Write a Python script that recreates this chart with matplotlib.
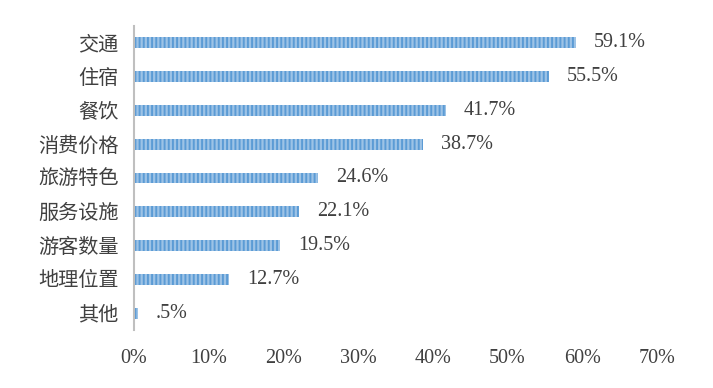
import matplotlib
matplotlib.use("Agg")
import matplotlib.pyplot as plt

# categories from top to bottom and their shares (%)
categories = ["交通", "住宿", "餐饮", "消费价格", "旅游特色", "服务设施", "游客数量", "地理位置", "其他"]
values = [59.1, 55.5, 41.7, 38.7, 24.6, 22.1, 19.5, 12.7, 0.5]
value_labels = ["59.1%", "55.5%", "41.7%", "38.7%", "24.6%", "22.1%", "19.5%", "12.7%", ".5%"]
xticks = [0, 10, 20, 30, 40, 50, 60, 70]
xtick_labels = ["0%", "10%", "20%", "30%", "40%", "50%", "60%", "70%"]

plt.rcParams['font.family'] = ['Liberation Serif', 'Noto Sans CJK SC']
plt.rcParams['hatch.linewidth'] = 1.4

fig = plt.figure(figsize=(7.13, 3.88), dpi=100)
ax = fig.add_axes([0.188, 0.1495, 0.7335, 0.7835])

ypos = list(range(len(categories)))[::-1]
ax.barh(ypos, values, height=0.32, color='#9dc3e6', edgecolor='#5b9bd5',
        linewidth=0, hatch='||||')

for y, v, lab in zip(ypos, values, value_labels):
    ax.annotate(lab, (v, y), xytext=(18, 0), textcoords='offset pixels',
                va='center', ha='left', fontsize=14.5, color='#404040')

ax.set_xlim(0, 70)
ax.set_ylim(-0.5, len(categories) - 0.5)
ax.set_xticks(xticks)
ax.set_xticklabels(xtick_labels, fontsize=14.5, color='#404040')
ax.set_yticks(ypos)
ax.set_yticklabels(categories, fontsize=14.5, color='#404040')
ax.tick_params(axis='both', length=0)
ax.tick_params(axis='x', pad=14)
ax.tick_params(axis='y', pad=11)

for side in ['top', 'right', 'bottom']:
    ax.spines[side].set_visible(False)
ax.spines['left'].set_color('#bfbfbf')
ax.spines['left'].set_linewidth(1.5)

fig.savefig("out.png", dpi=100)
